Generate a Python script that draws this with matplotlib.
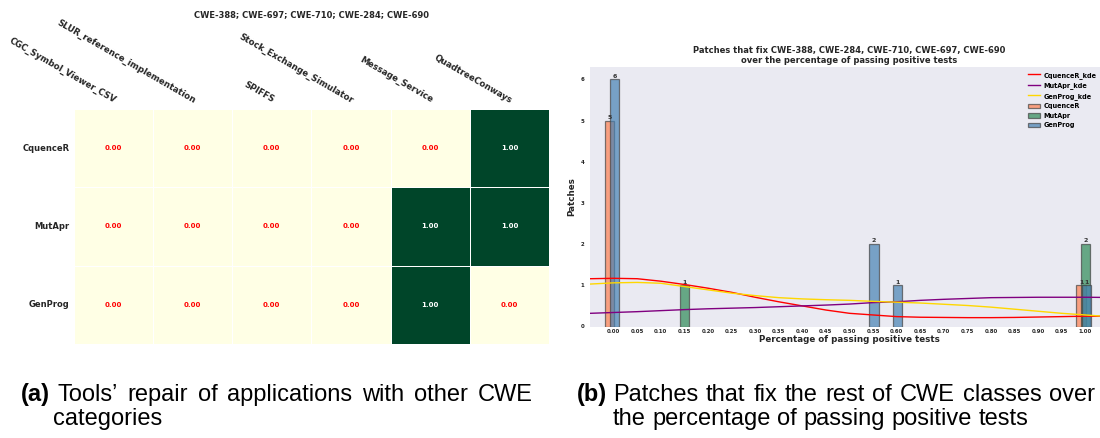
import matplotlib
matplotlib.use("Agg")
import matplotlib.pyplot as plt
import seaborn as sns
import numpy as np

W, H = 1100, 438

# left panel: which tool repaired which application
tools = ["CquenceR", "MutApr", "GenProg"]
apps = ["CGC_Symbol_Viewer_CSV", "SLUR_reference_implementation", "SPIFFS",
	"Stock_Exchange_Simulator", "Message_Service", "QuadtreeConways"]
repair = [[0, 0, 0, 0, 0, 1],
	[0, 0, 0, 0, 1, 1],
	[0, 0, 0, 0, 1, 0]]

# right panel: patch counts per passing rate
pass_rate = [0.00, 0.15, 0.55, 0.60, 1.00]
cquencer_counts = [5, 0, 0, 0, 1]
mutapr_counts = [0, 1, 0, 0, 2]
genprog_counts = [6, 0, 2, 1, 1]

# kde curves
kde_x = [-0.05, 0.00, 0.05, 0.10, 0.15, 0.20, 0.25, 0.30, 0.35, 0.40, 0.45, 0.50,
	0.55, 0.60, 0.65, 0.70, 0.75, 0.80, 0.85, 0.90, 0.95, 1.00, 1.05]
cquencer_kde = [1.16, 1.17, 1.16, 1.10, 1.02, 0.93, 0.83, 0.71, 0.60, 0.50, 0.40, 0.32,
	0.28, 0.24, 0.225, 0.22, 0.215, 0.215, 0.22, 0.23, 0.24, 0.25, 0.25]
mutapr_kde = [0.32, 0.34, 0.36, 0.385, 0.41, 0.43, 0.445, 0.46, 0.48, 0.50, 0.52, 0.545,
	0.58, 0.60, 0.635, 0.66, 0.68, 0.70, 0.705, 0.71, 0.71, 0.71, 0.705]
genprog_kde = [1.03, 1.06, 1.07, 1.05, 0.97, 0.89, 0.81, 0.75, 0.70, 0.67, 0.65, 0.635,
	0.61, 0.59, 0.57, 0.54, 0.51, 0.47, 0.42, 0.37, 0.32, 0.28, 0.24]

x_ticks = [0.00, 0.05, 0.10, 0.15, 0.20, 0.25, 0.30, 0.35, 0.40, 0.45, 0.50,
	0.55, 0.60, 0.65, 0.70, 0.75, 0.80, 0.85, 0.90, 0.95, 1.00]
y_ticks = [0, 1, 2, 3, 4, 5, 6]

fig = plt.figure(figsize=(W / 100, H / 100), dpi=100)

# ---- heatmap ----
ax_hm = fig.add_axes([73.5 / W, 1 - 344 / H, (549 - 73.5) / W, (344 - 109) / H])
sns.heatmap(np.array(repair, dtype=float), ax=ax_hm, cmap="YlGn", vmin=0, vmax=1,
	annot=True, fmt=".2f", annot_kws={"fontsize": 5, "fontweight": "bold"},
	linewidths=0.7, linecolor="white", cbar=False)
for t in ax_hm.texts:
	t.set_color("white" if t.get_text() == "1.00" else "red")
ax_hm.xaxis.tick_top()
ax_hm.set_xticklabels(apps, rotation=-30, ha="right", va="bottom",
	rotation_mode="anchor", fontsize=6.2, fontweight="bold", color="#262626")
ax_hm.set_yticklabels(tools, rotation=0, fontsize=6, fontweight="bold", color="#262626")
ax_hm.tick_params(length=0, pad=3)
fig.text(311 / W, 1 - 15 / H, "CWE-388; CWE-697; CWE-710; CWE-284; CWE-690",
	ha="center", va="center", fontsize=6, fontweight="bold", color="#262626")

# ---- bars + kde ----
ax = fig.add_axes([590 / W, 1 - 326.5 / H, 519 / W, (326.5 - 67) / H])
ax.set_facecolor("#eaeaf2")
for s in ax.spines.values():
	s.set_visible(False)

ax.plot(kde_x, cquencer_kde, color="red", lw=1, label="CquenceR_kde")
ax.plot(kde_x, mutapr_kde, color="purple", lw=1, label="MutApr_kde")
ax.plot(kde_x, genprog_kde, color="gold", lw=1, label="GenProg_kde")

series = [("CquenceR", cquencer_counts, "coral", -0.009),
	("MutApr", mutapr_counts, "seagreen", 0.0),
	("GenProg", genprog_counts, "steelblue", 0.002)]
for name, counts, col, off in series:
	xs = [p + off for p, c in zip(pass_rate, counts) if c > 0]
	hs = [c for c in counts if c > 0]
	bars = ax.bar(xs, hs, width=0.02, color=col, edgecolor="#444444",
		linewidth=0.9, alpha=0.7, label=name)
	ax.bar_label(bars, fontsize=4.5, fontweight="bold", color="#333333", padding=0.5)

ax.set_xlim(-0.05, 1.05)
ax.set_ylim(0, 6.3)
ax.set_xticks(x_ticks)
ax.set_xticklabels(["%.2f" % v for v in x_ticks])
ax.set_yticks(y_ticks)
ax.tick_params(length=0, labelsize=3.9, colors="#262626")
for lab in ax.get_xticklabels() + ax.get_yticklabels():
	lab.set_fontweight("bold")
ax.tick_params(axis="x", pad=2)
ax.tick_params(axis="y", pad=4)
ax.set_title("Patches that fix CWE-388, CWE-284, CWE-710, CWE-697, CWE-690\n"
	"over the percentage of passing positive tests",
	fontsize=6, fontweight="bold", color="#262626", pad=3, linespacing=1.1)
ax.set_xlabel("Percentage of passing positive tests", fontsize=6.3,
	fontweight="bold", color="#262626", labelpad=0.5)
ax.set_ylabel("Patches", fontsize=6.3, fontweight="bold", color="#262626", labelpad=3)
ax.legend(loc="upper left", bbox_to_anchor=(0.835, 1.0), frameon=False,
	prop={"size": 4.7, "weight": "bold"}, handlelength=1.9, handletextpad=0.5,
	borderaxespad=0.3, labelspacing=0.55)

# ---- captions (justified first lines) ----
cap_font = "Liberation Sans"
cap_size = 17
renderer = fig.canvas.get_renderer()
space_px = 0.278 * cap_size * 100 / 72

def put_line(words, x0, x1, y, justify=True):
	texts = [fig.text(0, 1 - y / H, w, fontsize=cap_size, family=cap_font,
		va="baseline") for w in words]
	widths = [t.get_window_extent(renderer).width for t in texts]
	gap = space_px
	if justify and len(words) > 1:
		gap = (x1 - x0 - sum(widths)) / (len(words) - 1)
	x = x0
	for t, w in zip(texts, widths):
		t.set_x(x / W)
		x += w + gap

fig.text(21 / W, 1 - 401 / H, "(a)", fontsize=cap_size, family=cap_font,
	fontweight="bold", va="baseline")
put_line("Tools’ repair of applications with other CWE".split(), 57, 533, 401)
put_line(["categories"], 53, 533, 425, justify=False)

fig.text(577 / W, 1 - 401 / H, "(b)", fontsize=cap_size, family=cap_font,
	fontweight="bold", va="baseline")
put_line("Patches that fix the rest of CWE classes over".split(), 613, 1095, 401)
put_line("the percentage of passing positive tests".split(), 613, 1095, 425, justify=False)

fig.savefig("out.png", dpi=100)
